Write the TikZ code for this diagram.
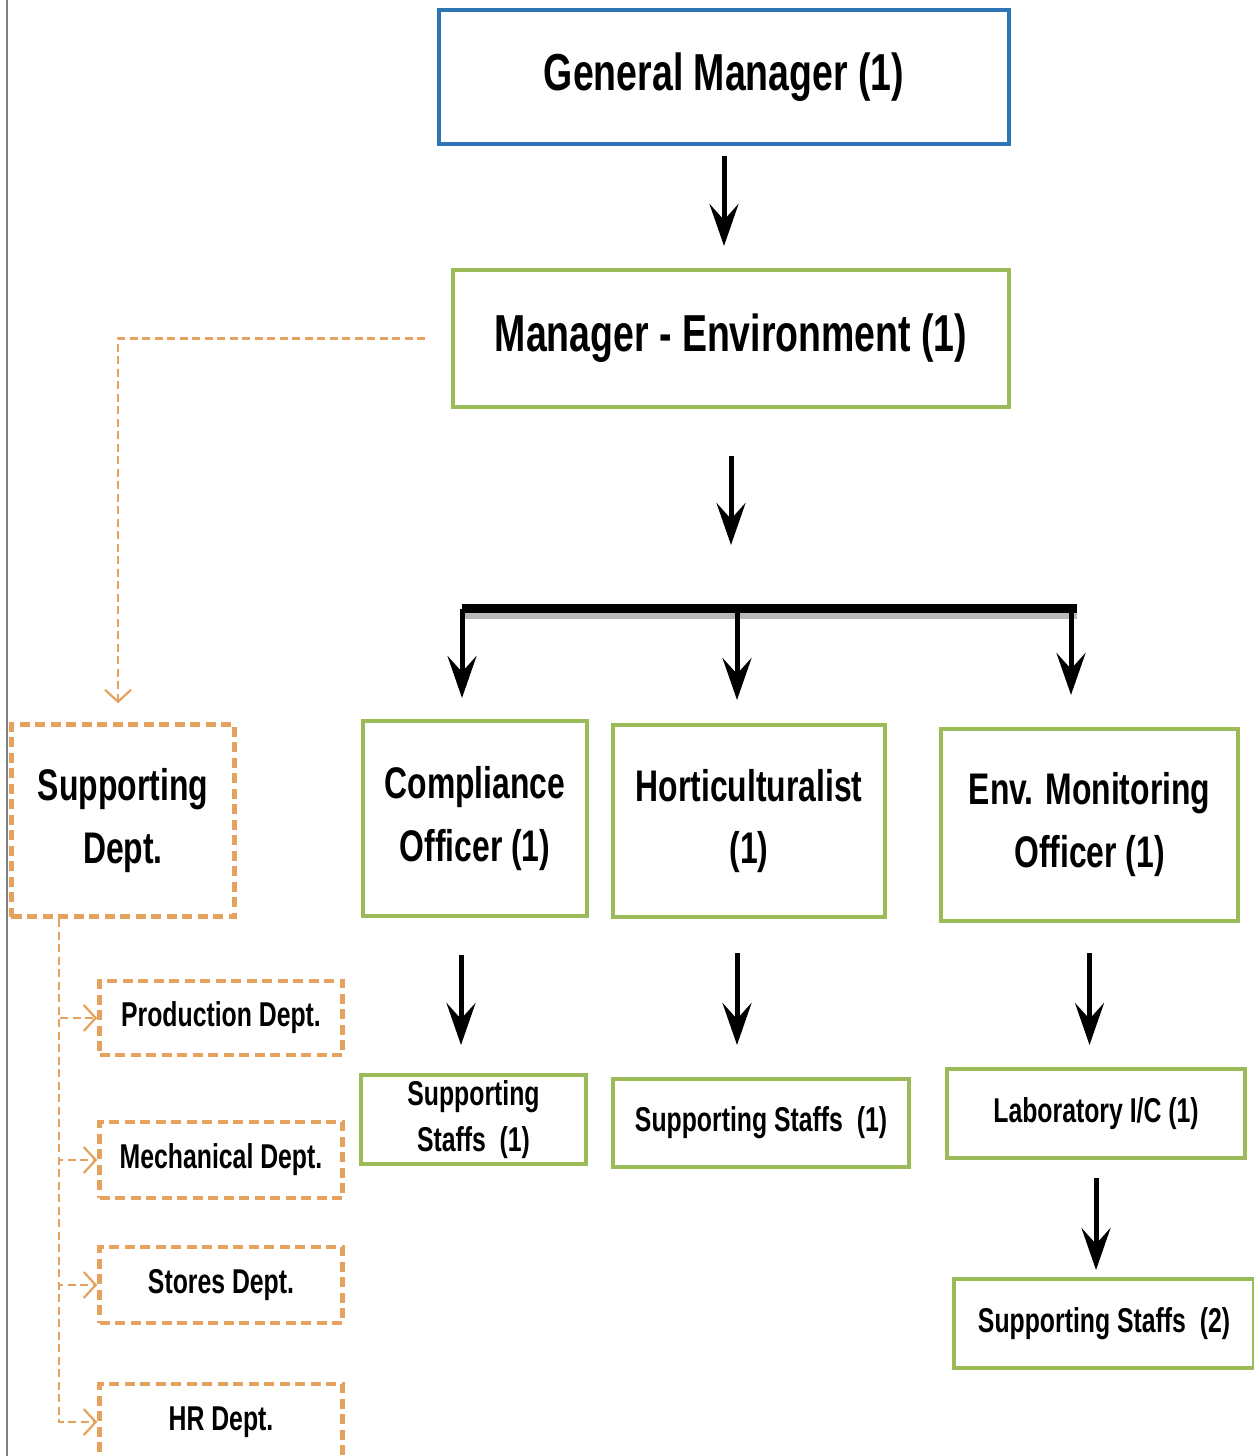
\documentclass[tikz,border=0pt]{standalone}
\usepackage{fontspec}
\setmainfont{Liberation Sans}[FakeStretch=0.72]
\usepackage{tikz}
\usetikzlibrary{arrows.meta}
\definecolor{gmblue}{HTML}{2E75B6}
\definecolor{envgreen}{HTML}{9BBB59}
\definecolor{deptorange}{HTML}{E5A15E}
\tikzset{
  bigfont/.style={font=\fontsize{14.8}{16}\selectfont\bfseries},
  rolefont/.style={font=\fontsize{12.6}{17.9}\selectfont\bfseries},
  staffont/.style={font=\fontsize{9.8}{13}\selectfont\bfseries},
  topbox/.style={draw=gmblue, line width=0.04cm, bigfont},
  envbox/.style={draw=envgreen, line width=0.04cm, align=center, inner sep=0pt},
  deptbox/.style={draw=deptorange, line width=0.045cm, dash pattern=on 0.1cm off 0.055cm, align=center, inner sep=0pt},
  arr/.style={line width=0.05cm, -{Stealth[length=0.42cm, width=0.29cm, inset=0.16cm]}},
  link/.style={draw=deptorange, line width=0.022cm, dash pattern=on 0.08cm off 0.045cm, -{Straight Barb[length=0.12cm, width=0.26cm, line width=0.022cm]}}
}

\begin{document}
\begin{tikzpicture}
      \useasboundingbox (0,0) rectangle (12.54,-14.56);
      \draw[gray, line width=0.02cm] (0.07,0) -- (0.07,-14.56);

      \node[topbox, minimum width=5.7cm, minimum height=1.34cm] (gm) at (7.24,-0.77) {General Manager (1)};
      \node[envbox, bigfont, minimum width=5.56cm, minimum height=1.37cm] (me) at (7.31,-3.385) {Manager - Environment (1)};

      \node[envbox, rolefont, minimum width=2.24cm, minimum height=1.95cm] (co) at (4.75,-8.185) {Compliance\\Officer (1)};
      \node[envbox, rolefont, minimum width=2.72cm, minimum height=1.92cm] (ho) at (7.49,-8.21) {Horticulturalist\\(1)};
      \node[envbox, rolefont, minimum width=2.97cm, minimum height=1.92cm] (en) at (10.895,-8.25) {Env. Monitoring\\Officer (1)};

      \node[envbox, staffont, minimum width=2.25cm, minimum height=0.89cm] (st1) at (4.735,-11.195) {Supporting\\Staffs~~(1)};
      \node[envbox, staffont, minimum width=2.96cm, minimum height=0.88cm] (st2) at (7.61,-11.23) {Supporting Staffs~~(1)};
      \node[envbox, staffont, minimum width=2.98cm, minimum height=0.89cm] (lab) at (10.96,-11.135) {Laboratory I/C (1)};
      \node[envbox, staffont, minimum width=3.0cm, minimum height=0.89cm] (st3) at (11.04,-13.235) {Supporting Staffs~~(2)};

      \node[deptbox, rolefont, minimum width=2.23cm, minimum height=1.92cm] (sd) at (1.23,-8.205) {Supporting\\Dept.};
      \node[deptbox, staffont, minimum width=2.43cm, minimum height=0.74cm] (prod) at (2.21,-10.18) {Production Dept.};
      \node[deptbox, staffont, minimum width=2.43cm, minimum height=0.76cm] (mech) at (2.21,-11.6) {Mechanical Dept.};
      \node[deptbox, staffont, minimum width=2.43cm, minimum height=0.76cm] (stor) at (2.21,-12.85) {Stores Dept.};
      \node[deptbox, staffont, minimum width=2.43cm, minimum height=0.76cm] (hr) at (2.21,-14.22) {HR Dept.};

      \coordinate (barL) at (4.62,-6.09);
      \coordinate (barM) at (7.37,-6.09);
      \coordinate (barE) at (10.71,-6.09);
      \coordinate (barR) at (10.77,-6.09);
      \coordinate (spine) at (0.59,-9.19);

      \draw[arr, shorten <=0.1cm, shorten >=0.22cm] (gm.south) -- (me.north -| gm.south);
      \draw[arr, shorten <=0.47cm, shorten >=0.64cm] (me.south) -- (me.south |- barL);
      \draw[gray!55, line width=0.09cm] ([yshift=-0.06cm]barL) -- ([yshift=-0.06cm]barR);
      \draw[line width=0.09cm] (barL) -- (barR);
      \draw[arr, shorten >=0.21cm] (barL) -- (barL |- co.north);
      \draw[arr, shorten >=0.23cm] (barM) -- (barM |- ho.north);
      \draw[arr, shorten >=0.32cm] (barE) -- (barE |- en.north);

      \draw[arr, shorten <=0.37cm, shorten >=0.28cm] ([xshift=-0.14cm]co.south) -- ([xshift=-0.14cm]co.south |- st1.north);
      \draw[arr, shorten <=0.34cm, shorten >=0.32cm] ([xshift=-0.12cm]ho.south) -- ([xshift=-0.12cm]ho.south |- st2.north);
      \draw[arr, shorten <=0.3cm, shorten >=0.22cm] (en.south) -- (en.south |- lab.north);
      \draw[arr, shorten <=0.18cm, shorten >=0.07cm] (lab.south) -- (lab.south |- st3.north);

      \draw[link, shorten <=0.26cm, shorten >=0.19cm] (me.west) -| ([xshift=-0.05cm]sd.north);
      \foreach \d in {prod,mech,stor,hr}
        \draw[link] (spine) |- (\d.west);
    \end{tikzpicture}
\end{document}
